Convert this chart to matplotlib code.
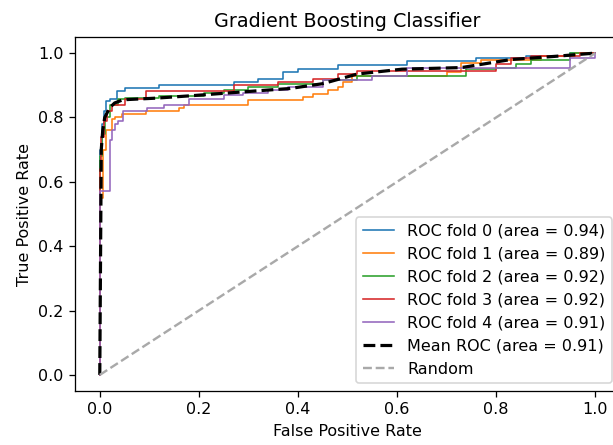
import matplotlib
matplotlib.use("Agg")
import matplotlib.pyplot as plt

# step ROC curves per fold (fpr breakpoints, tpr reached at that fpr)
fold_aucs = [0.94, 0.89, 0.92, 0.92, 0.91]

fold0_fpr = [0.0, 0.0, 0.004, 0.008, 0.012, 0.02, 0.034, 0.05, 0.12, 0.27, 0.32, 0.37, 0.40, 0.48, 0.62, 0.76, 0.86, 0.95, 1.0]
fold0_tpr = [0.0, 0.70, 0.78, 0.82, 0.85, 0.857, 0.883, 0.89, 0.90, 0.91, 0.92, 0.94, 0.95, 0.963, 0.975, 0.985, 0.99, 1.0, 1.0]

fold1_fpr = [0.0, 0.0, 0.006, 0.012, 0.024, 0.03, 0.044, 0.094, 0.16, 0.17, 0.30, 0.41, 0.43, 0.46, 0.48, 0.49, 0.51, 0.70, 0.73, 0.77, 0.89, 0.96, 1.0]
fold1_tpr = [0.0, 0.55, 0.70, 0.76, 0.794, 0.80, 0.81, 0.82, 0.83, 0.84, 0.855, 0.864, 0.874, 0.885, 0.895, 0.91, 0.929, 0.94, 0.97, 0.98, 0.99, 1.0, 1.0]

fold2_fpr = [0.0, 0.0, 0.004, 0.01, 0.02, 0.036, 0.05, 0.12, 0.21, 0.25, 0.30, 0.36, 0.45, 0.52, 0.74, 0.80, 0.84, 0.87, 0.95, 1.0]
fold2_tpr = [0.0, 0.68, 0.75, 0.80, 0.84, 0.857, 0.862, 0.868, 0.877, 0.885, 0.895, 0.905, 0.915, 0.93, 0.95, 0.955, 0.965, 0.98, 1.0, 1.0]

fold3_fpr = [0.0, 0.0, 0.003, 0.008, 0.015, 0.025, 0.05, 0.094, 0.27, 0.36, 0.43, 0.48, 0.52, 0.80, 0.83, 0.87, 0.97, 1.0]
fold3_tpr = [0.0, 0.64, 0.74, 0.79, 0.82, 0.84, 0.857, 0.883, 0.90, 0.91, 0.919, 0.935, 0.945, 0.966, 0.985, 0.99, 1.0, 1.0]

fold4_fpr = [0.0, 0.0, 0.02, 0.025, 0.03, 0.036, 0.047, 0.095, 0.13, 0.18, 0.25, 0.29, 0.34, 0.38, 0.45, 0.55, 0.62, 0.95, 1.0]
fold4_tpr = [0.0, 0.57, 0.73, 0.76, 0.78, 0.79, 0.82, 0.83, 0.84, 0.857, 0.87, 0.877, 0.885, 0.895, 0.915, 0.93, 0.955, 0.985, 1.0]

mean_fpr = [0.0, 0.003, 0.006, 0.01, 0.02, 0.03, 0.047, 0.114, 0.18, 0.25, 0.32, 0.384, 0.45, 0.52, 0.61, 0.73, 0.83, 0.92, 1.0]
mean_tpr = [0.0, 0.70, 0.76, 0.80, 0.83, 0.845, 0.855, 0.86, 0.867, 0.875, 0.883, 0.89, 0.905, 0.935, 0.95, 0.955, 0.98, 0.99, 1.0]
mean_auc = 0.91

folds = [
    (fold0_fpr, fold0_tpr),
    (fold1_fpr, fold1_tpr),
    (fold2_fpr, fold2_tpr),
    (fold3_fpr, fold3_tpr),
    (fold4_fpr, fold4_tpr),
]


def main():
    dpi = 115
    fig = plt.figure(figsize=(613 / dpi, 445 / dpi), dpi=dpi)
    # the reference is cropped on the right, so the axes run past the figure edge
    ax = fig.add_axes([75 / 613, 1 - 391 / 445, 545 / 613, 354 / 445])

    for i, (fpr, tpr) in enumerate(folds):
        ax.plot(fpr, tpr, lw=1, drawstyle="steps-post",
                label=f"ROC fold {i} (area = {fold_aucs[i]:.2f})")
    ax.plot(mean_fpr, mean_tpr, "k--", lw=2,
            label=f"Mean ROC (area = {mean_auc:.2f})")
    ax.plot([0, 1], [0, 1], "--", color="darkgrey", lw=1.5, label="Random")

    ax.set_xlim(-0.05, 1.05)
    ax.set_ylim(-0.05, 1.05)
    ax.set_xlabel("False Positive Rate")
    ax.set_ylabel("True Positive Rate")
    ax.set_title("Gradient Boosting Classifier")
    ax.legend(loc="lower right")

    fig.savefig("out.png", dpi=dpi)
    plt.close(fig)


if __name__ == "__main__":
    main()
